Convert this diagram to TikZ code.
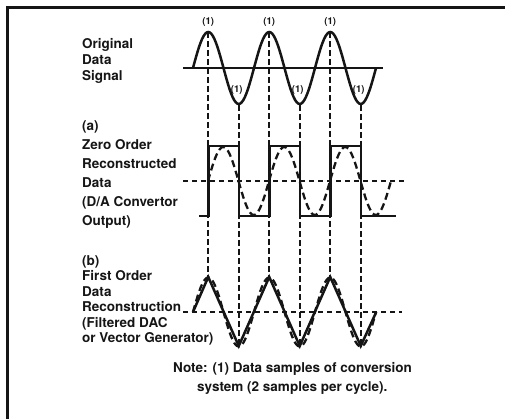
\documentclass[tikz,border=0pt]{standalone}
\usepackage{fontspec}
\setmainfont{TeX Gyre Heros}
\usepackage{xcolor}
\usepackage{tikz}
\usetikzlibrary{arrows.meta,positioning,calc}
\definecolor{scanink}{HTML}{151515}

\begin{document}
\begin{tikzpicture}[x=1pt,y=-1pt,
  lbl/.style={anchor=north west,inner sep=0pt,align=left,text=scanink,
              font=\fontsize{13.5}{16}\selectfont\bfseries},
  smp/.style={inner sep=0pt,text=scanink,font=\fontsize{9.5}{9.5}\selectfont\bfseries},
  wave/.style={draw=scanink,line width=2.5pt,line join=miter},
  ghost/.style={draw=scanink,line width=2.3pt,dash pattern=on 7pt off 4pt},
  midline/.style={draw=scanink,line width=1.4pt,dash pattern=on 5pt off 4pt},
  guide/.style={draw=scanink,line width=1.8pt,dash pattern=on 6pt off 3pt}]
\useasboundingbox (0,0) rectangle (505,419);
% frame
\draw[scanink,line width=3pt] (7,419) -- (7,8) -- (505,8);

% sample points: peaks and troughs, top and bottom trace
\foreach \k in {0,1,2} {
  \coordinate (op\k) at ({208.25+61*\k},32);
  \coordinate (bp\k) at ({208.25+61*\k},277);
  \coordinate (ot\k) at ({238.75+61*\k},105);
  \coordinate (bt\k) at ({238.75+61*\k},346);
}
\foreach \k in {0,1,2} {
  \draw[guide] (op\k) -- (bp\k);
  \draw[guide] (ot\k) -- (bt\k);
}

% original signal
\draw[scanink,line width=2pt] (183,68) -- (383,68);
\draw[wave] plot[domain=0:3,samples=121,smooth] ({193+61*\x},{68-36*sin(360*\x)});
\foreach \k in {0,1,2} {
  \node[smp,above=5pt of op\k] (lp\k) {(1)};
  \node[smp] (lt\k) at ({236.75+61*\k},90) {(1)};
}

% (a) zero order hold
\draw[midline] (183,181) -- (406,181);
\draw[ghost] plot[domain=0:3,samples=121,smooth] ({208+61*\x},{181-34*sin(360*\x)});
\draw[wave] (199,216) -- (208.25,216) -- (208.25,146) -- (238.75,146) -- (238.75,216)
  -- (269.25,216) -- (269.25,146) -- (299.75,146) -- (299.75,216)
  -- (330.25,216) -- (330.25,146) -- (360.75,146) -- (360.75,216) -- (396,216);

% (b) first order
\draw[midline] (183,312) -- (402,312);
\draw[ghost] plot[domain=0:3,samples=121,smooth] ({193+61*\x},{312-34.5*sin(360*\x)});
\draw[wave] (193,312) -- (bp0) -- (bt0) -- (bp1) -- (bt1) -- (bp2) -- (bt2) -- (376.25,312);

% captions
\node[lbl] (orig) at (82,38) {Original\\Data\\Signal};
\node[lbl,font=\fontsize{13.5}{19}\selectfont\bfseries] (zoh) at (82,120)
  {(a)\\Zero Order\\Reconstructed\\Data\\(D/A Convertor\\Output)};
\node[lbl,font=\fontsize{13.5}{15.5}\selectfont\bfseries] (foh) at (82,255)
  {(b)\\First Order\\Data\\Reconstruction\\(Filtered DAC\\or Vector Generator)};
\node[lbl,font=\fontsize{13.5}{19}\selectfont\bfseries] (note) at (173,362)
  {Note: (1) Data samples of conversion\\
  \hspace*{24pt}system (2 samples per cycle).};
\end{tikzpicture}
\end{document}
